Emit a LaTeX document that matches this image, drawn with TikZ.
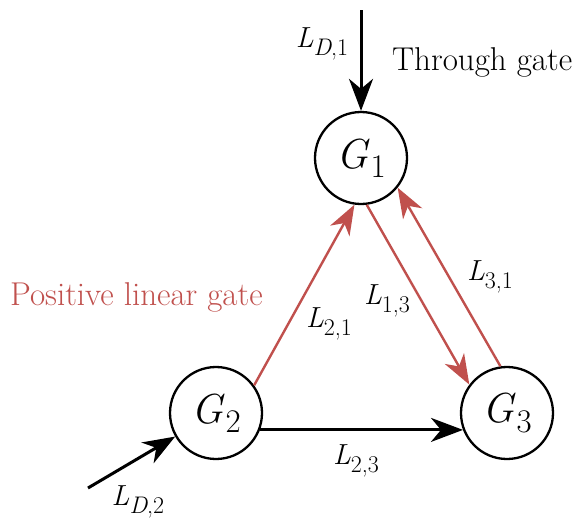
\documentclass[tikz,border=0pt]{standalone}
\usepackage{tikz}
\usetikzlibrary{arrows.meta}
\definecolor{gatered}{RGB}{192,80,77}
% gate and link labels
\newcommand{\gname}[1]{\textit{G}\kern1pt\raisebox{-0.22em}{\fontsize{33}{33}\selectfont #1}}
\newcommand{\lname}[1]{\textit{L}\raisebox{-0.28em}{\fontsize{24}{24}\selectfont #1}}

\begin{document}
\begin{tikzpicture}[
  x=1pt, y=-1pt,
  gate/.style={circle, draw, line width=2.3pt, minimum size=92pt, inner sep=0pt,
    font=\fontsize{42}{44}\selectfont},
  flow/.style={-{Stealth[length=32pt, width=24pt, inset=10pt]}, line width=3pt},
  posflow/.style={-{Stealth[length=30pt, width=22pt, inset=9pt]}, line width=2.4pt, gatered},
  lab/.style={font=\fontsize{29}{31}\selectfont, inner sep=0pt},
]
\useasboundingbox (0,0) rectangle (573,520);

% --- Gates ---
\node[gate] (g1) at (361,158) {\gname{1}};
\node[gate] (g2) at (216,413) {\gname{2}};
\node[gate] (g3) at (507,413) {\gname{3}};

% --- Inputs ---
\coordinate (in1) at (361,10);
\coordinate (in2) at (88,488);
\draw[flow] (in1) -- (g1);
\draw[flow] (in2) -- (g2.210);
\draw[flow] (g2.-21) -- (g3.201);

% --- Positive linear links ---
\draw[posflow] (g2.36) -- (g1.262);
\draw[posflow] (g1.277) -- (g3.143);
\draw[posflow] (g3.98) -- (g1.321);

% --- Labels ---
\node[lab] (ld1) at (322,44) {\lname{\textit{D},1}};
\node[lab] (ld2) at (138,502) {\lname{\textit{D},2}};
\node[lab] (l21) at (329,324) {\lname{2,1}};
\node[lab] (l13) at (387,301) {\lname{1,3}};
\node[lab] (l31) at (490,277) {\lname{3,1}};
\node[lab] (l23) at (356,461) {\lname{2,3}};
\node[font=\fontsize{33}{35}\selectfont, inner sep=0pt, anchor=base west] (thru) at (392,70) {Through gate};
\node[font=\fontsize{33}{35}\selectfont, inner sep=0pt, anchor=base west, text=gatered] (pos) at (10,305) {Positive linear gate};

\end{tikzpicture}
\end{document}
